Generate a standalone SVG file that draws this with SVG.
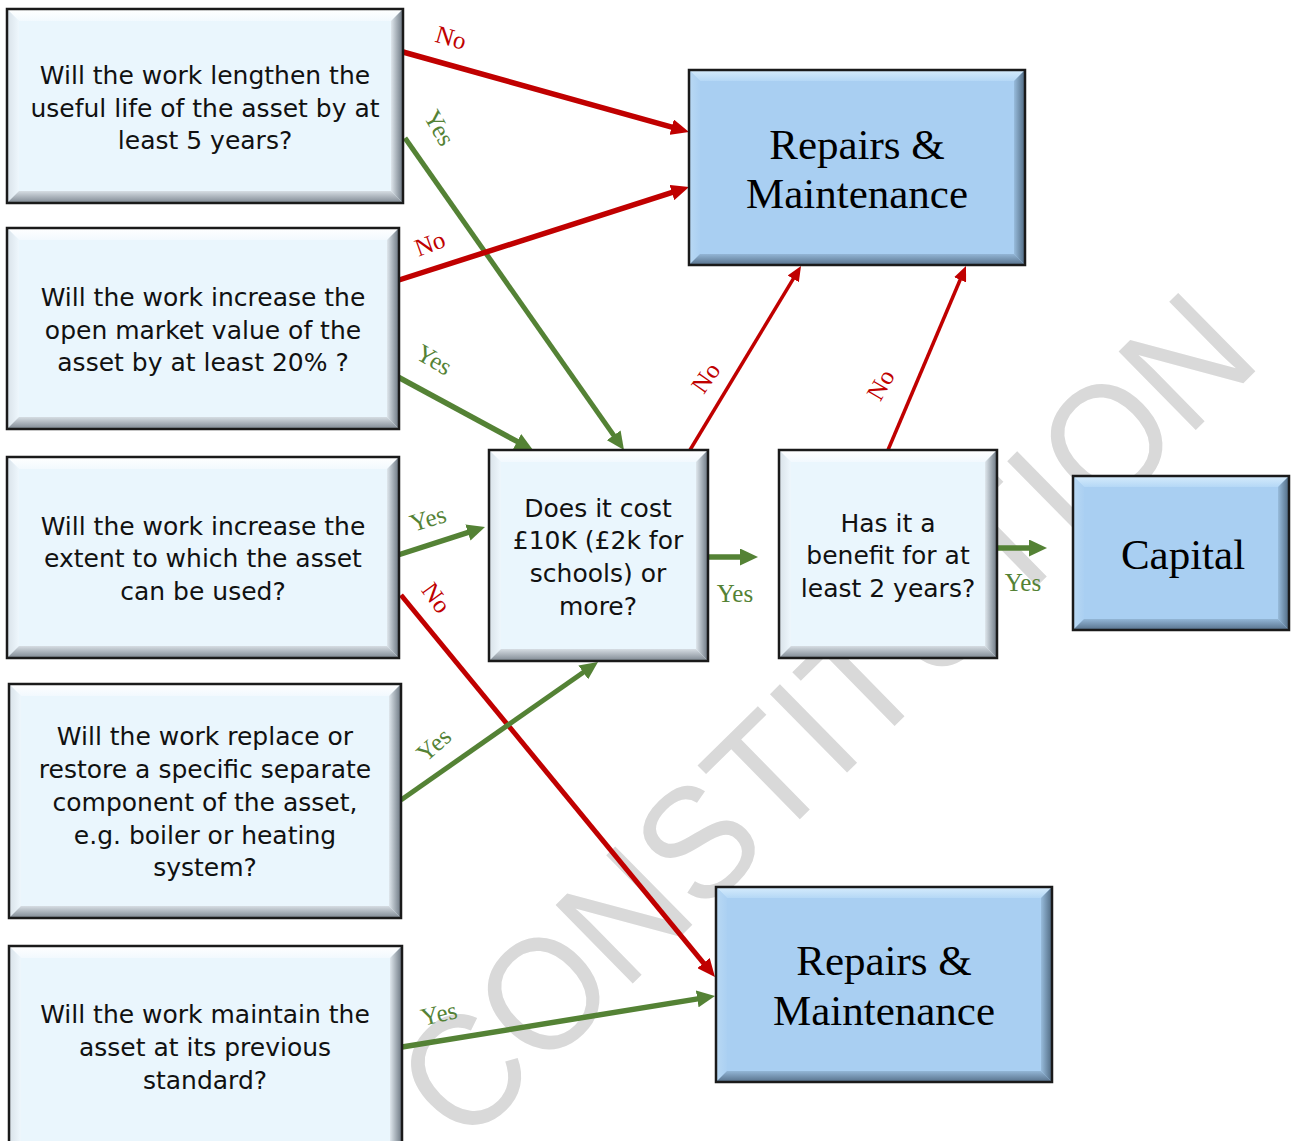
<svg xmlns="http://www.w3.org/2000/svg" width="1291" height="1141" viewBox="0 0 1291 1141">
  <style>
    .q-text { font-family: "DejaVu Sans", "Liberation Sans", sans-serif; font-size: 25px; fill: #111; text-anchor: middle; }
    .o-text { font-family: "Liberation Serif", "DejaVu Serif", serif; font-size: 43px; fill: #000; text-anchor: middle; }
    .lbl { font-family: "Liberation Serif", "DejaVu Serif", serif; font-size: 25px; text-anchor: middle; }
    .lbl-no { fill: #c00000; }
    .lbl-yes { fill: #548235; }
    .frame { fill: none; stroke: #1a1a1a; stroke-width: 2.5; }
    .q-base { fill: #eaf6fd; }
    .o-base { fill: #a9cff2; }
    .q-top { fill: url(#qTop); } .q-bot { fill: url(#qBot); } .q-left { fill: url(#qLeft); } .q-right { fill: url(#qRight); }
    .o-top { fill: url(#oTop); } .o-bot { fill: url(#oBot); } .o-left { fill: url(#oLeft); } .o-right { fill: url(#oRight); }
    .ln { fill: none; stroke-linecap: butt; }
    .red { stroke: #c00000; }
    .green { stroke: #548235; }
    .thick { stroke-width: 5.5; }
    .mid { stroke-width: 5; }
    .thin { stroke-width: 3.5; }
    .watermark { font-family: "Liberation Sans", "DejaVu Sans", sans-serif; font-size: 160px; fill: #d9d9d9; text-anchor: middle; }
  </style>
  <defs>
    <!-- bevel shading, pale question boxes -->
    <linearGradient id="qTop" x1="0" y1="0" x2="0" y2="1"><stop offset="0" stop-color="#ffffff"/><stop offset="1" stop-color="#f2f9fe"/></linearGradient>
    <linearGradient id="qBot" x1="0" y1="0" x2="0" y2="1"><stop offset="0" stop-color="#d6dde3"/><stop offset="1" stop-color="#7d8791"/></linearGradient>
    <linearGradient id="qLeft" x1="0" y1="0" x2="1" y2="0"><stop offset="0" stop-color="#d9e2e9"/><stop offset="1" stop-color="#eef7fd"/></linearGradient>
    <linearGradient id="qRight" x1="0" y1="0" x2="1" y2="0"><stop offset="0" stop-color="#dfe7ed"/><stop offset="1" stop-color="#6a7580"/></linearGradient>
    <!-- bevel shading, blue outcome boxes -->
    <linearGradient id="oTop" x1="0" y1="0" x2="0" y2="1"><stop offset="0" stop-color="#d6ecfc"/><stop offset="1" stop-color="#b5d8f6"/></linearGradient>
    <linearGradient id="oBot" x1="0" y1="0" x2="0" y2="1"><stop offset="0" stop-color="#93b6d6"/><stop offset="1" stop-color="#56708a"/></linearGradient>
    <linearGradient id="oLeft" x1="0" y1="0" x2="1" y2="0"><stop offset="0" stop-color="#b9d9f4"/><stop offset="1" stop-color="#abd0f2"/></linearGradient>
    <linearGradient id="oRight" x1="0" y1="0" x2="1" y2="0"><stop offset="0" stop-color="#98bcdc"/><stop offset="1" stop-color="#4f6981"/></linearGradient>
    <marker id="headRed" viewBox="0 0 18 16" markerWidth="18" markerHeight="16" refX="2" refY="8" orient="auto" markerUnits="userSpaceOnUse"><path d="M0,0 L18,8 L0,16 Z" fill="#c00000"/></marker>
    <marker id="headGreen" viewBox="0 0 18 17" markerWidth="18" markerHeight="17" refX="2" refY="8.5" orient="auto" markerUnits="userSpaceOnUse"><path d="M0,0 L18,8.5 L0,17 Z" fill="#548235"/></marker>
    <marker id="headRedSmall" viewBox="0 0 15 13" markerWidth="15" markerHeight="13" refX="2" refY="6.5" orient="auto" markerUnits="userSpaceOnUse"><path d="M0,0 L15,6.5 L0,13 Z" fill="#c00000"/></marker>
  </defs>

  <rect width="1291" height="1141" fill="#ffffff"/>

  <text class="watermark" transform="translate(864,756) rotate(-44.5) scale(0.935,1)">CONSTITUTION</text>

  <g id="connectors">
    <line class="ln red thick" x1="403" y1="52" x2="673.6" y2="127.7" marker-end="url(#headRed)"/>
    <line class="ln green mid" x1="405" y1="138" x2="614.8" y2="436.9" marker-end="url(#headGreen)"/>
    <line class="ln red thick" x1="399" y1="280" x2="673.8" y2="191.9" marker-end="url(#headRed)"/>
    <line class="ln green thick" x1="398" y1="377" x2="518.9" y2="442.4" marker-end="url(#headGreen)"/>
    <line class="ln green thick" x1="398" y1="555" x2="469.8" y2="531.9" marker-end="url(#headGreen)"/>
    <line class="ln red mid" x1="401" y1="595" x2="704.8" y2="964.6" marker-end="url(#headRed)"/>
    <line class="ln green mid" x1="401" y1="800" x2="584.9" y2="671.2" marker-end="url(#headGreen)"/>
    <line class="ln green thick" x1="402" y1="1047" x2="699.2" y2="998.6" marker-end="url(#headGreen)"/>
    <line class="ln red thin" x1="690" y1="450" x2="794.3" y2="277.1" marker-end="url(#headRedSmall)"/>
    <line class="ln red thin" x1="888" y1="450" x2="960.9" y2="278" marker-end="url(#headRedSmall)"/>
    <line class="ln green thick" x1="707" y1="557" x2="742" y2="557" marker-end="url(#headGreen)"/>
    <line class="ln green thick" x1="995" y1="548" x2="1031" y2="548" marker-end="url(#headGreen)"/>

    <text class="lbl lbl-no" transform="translate(451,38) rotate(16)" y="8">No</text>
    <text class="lbl lbl-yes" transform="translate(439,128) rotate(60)" y="8">Yes</text>
    <text class="lbl lbl-no" transform="translate(430,244) rotate(-20)" y="8">No</text>
    <text class="lbl lbl-yes" transform="translate(434,360) rotate(30)" y="8">Yes</text>
    <text class="lbl lbl-yes" transform="translate(428,519) rotate(-17)" y="8">Yes</text>
    <text class="lbl lbl-no" transform="translate(436,598) rotate(54)" y="8">No</text>
    <text class="lbl lbl-yes" transform="translate(434,745) rotate(-42)" y="8">Yes</text>
    <text class="lbl lbl-yes" transform="translate(439,1014) rotate(-13)" y="8">Yes</text>
    <text class="lbl lbl-no" transform="translate(706,378) rotate(-55)" y="8">No</text>
    <text class="lbl lbl-no" transform="translate(881,385) rotate(-60)" y="8">No</text>
    <text class="lbl lbl-yes" x="735" y="602">Yes</text>
    <text class="lbl lbl-yes" x="1023" y="591">Yes</text>
  </g>

  <!-- question: useful life -->
  <g id="q-useful-life">
    <rect class="q-base" x="7" y="9" width="396" height="194"/>
    <polygon class="q-top" points="7,9 403,9 391,21 19,21"/>
    <polygon class="q-left" points="7,9 19,21 19,191 7,203"/>
    <polygon class="q-right" points="403,9 391,21 391,191 403,203"/>
    <polygon class="q-bot" points="7,203 19,191 391,191 403,203"/>
    <rect class="frame" x="7" y="9" width="396" height="194"/>
    <text class="q-text"><tspan x="205" y="84">Will the work lengthen the</tspan><tspan x="205" y="116.5">useful life of the asset by at</tspan><tspan x="205" y="149">least 5 years?</tspan></text>
  </g>

  <!-- question: market value -->
  <g id="q-market-value">
    <rect class="q-base" x="7" y="228" width="392" height="201"/>
    <polygon class="q-top" points="7,228 399,228 387,240 19,240"/>
    <polygon class="q-left" points="7,228 19,240 19,417 7,429"/>
    <polygon class="q-right" points="399,228 387,240 387,417 399,429"/>
    <polygon class="q-bot" points="7,429 19,417 387,417 399,429"/>
    <rect class="frame" x="7" y="228" width="392" height="201"/>
    <text class="q-text"><tspan x="203" y="306">Will the work increase the</tspan><tspan x="203" y="339">open market value of the</tspan><tspan x="203" y="371">asset by at least 20% ?</tspan></text>
  </g>

  <!-- question: extent of use -->
  <g id="q-extent">
    <rect class="q-base" x="7" y="457" width="392" height="201"/>
    <polygon class="q-top" points="7,457 399,457 387,469 19,469"/>
    <polygon class="q-left" points="7,457 19,469 19,646 7,658"/>
    <polygon class="q-right" points="399,457 387,469 387,646 399,658"/>
    <polygon class="q-bot" points="7,658 19,646 387,646 399,658"/>
    <rect class="frame" x="7" y="457" width="392" height="201"/>
    <text class="q-text"><tspan x="203" y="535">Will the work increase the</tspan><tspan x="203" y="567">extent to which the asset</tspan><tspan x="203" y="600">can be used?</tspan></text>
  </g>

  <!-- question: component replacement -->
  <g id="q-component">
    <rect class="q-base" x="9" y="684" width="392" height="234"/>
    <polygon class="q-top" points="9,684 401,684 389,696 21,696"/>
    <polygon class="q-left" points="9,684 21,696 21,906 9,918"/>
    <polygon class="q-right" points="401,684 389,696 389,906 401,918"/>
    <polygon class="q-bot" points="9,918 21,906 389,906 401,918"/>
    <rect class="frame" x="9" y="684" width="392" height="234"/>
    <text class="q-text"><tspan x="205" y="745">Will the work replace or</tspan><tspan x="205" y="778">restore a specific separate</tspan><tspan x="205" y="811">component of the asset,</tspan><tspan x="205" y="844">e.g. boiler or heating</tspan><tspan x="205" y="876">system?</tspan></text>
  </g>

  <!-- question: maintain standard -->
  <g id="q-maintain">
    <rect class="q-base" x="9" y="946" width="393" height="210"/>
    <polygon class="q-top" points="9,946 402,946 390,958 21,958"/>
    <polygon class="q-left" points="9,946 21,958 21,1156 9,1156"/>
    <polygon class="q-right" points="402,946 390,958 390,1156 402,1156"/>
    <rect class="frame" x="9" y="946" width="393" height="210"/>
    <text class="q-text"><tspan x="205" y="1023">Will the work maintain the</tspan><tspan x="205" y="1056">asset at its previous</tspan><tspan x="205" y="1089">standard?</tspan></text>
  </g>

  <!-- question: cost threshold -->
  <g id="q-cost">
    <rect class="q-base" x="489" y="450" width="219" height="211"/>
    <polygon class="q-top" points="489,450 708,450 696,462 501,462"/>
    <polygon class="q-left" points="489,450 501,462 501,649 489,661"/>
    <polygon class="q-right" points="708,450 696,462 696,649 708,661"/>
    <polygon class="q-bot" points="489,661 501,649 696,649 708,661"/>
    <rect class="frame" x="489" y="450" width="219" height="211"/>
    <text class="q-text"><tspan x="598" y="517">Does it cost</tspan><tspan x="598" y="549">£10K (£2k for</tspan><tspan x="598" y="582">schools) or</tspan><tspan x="598" y="615">more?</tspan></text>
  </g>

  <!-- question: benefit duration -->
  <g id="q-benefit">
    <rect class="q-base" x="779" y="450" width="218" height="208"/>
    <polygon class="q-top" points="779,450 997,450 985,462 791,462"/>
    <polygon class="q-left" points="779,450 791,462 791,646 779,658"/>
    <polygon class="q-right" points="997,450 985,462 985,646 997,658"/>
    <polygon class="q-bot" points="779,658 791,646 985,646 997,658"/>
    <rect class="frame" x="779" y="450" width="218" height="208"/>
    <text class="q-text"><tspan x="888" y="532">Has it a</tspan><tspan x="888" y="564">benefit for at</tspan><tspan x="888" y="597">least 2 years?</tspan></text>
  </g>

  <!-- outcome: repairs & maintenance (upper) -->
  <g id="out-repairs-upper">
    <rect class="o-base" x="689" y="70" width="336" height="195"/>
    <polygon class="o-top" points="689,70 1025,70 1014,81 700,81"/>
    <polygon class="o-left" points="689,70 700,81 700,254 689,265"/>
    <polygon class="o-right" points="1025,70 1014,81 1014,254 1025,265"/>
    <polygon class="o-bot" points="689,265 700,254 1014,254 1025,265"/>
    <rect class="frame" x="689" y="70" width="336" height="195"/>
    <text class="o-text"><tspan x="857" y="159">Repairs &amp;</tspan><tspan x="857" y="208">Maintenance</tspan></text>
  </g>

  <!-- outcome: capital -->
  <g id="out-capital">
    <rect class="o-base" x="1073" y="476" width="216" height="154"/>
    <polygon class="o-top" points="1073,476 1289,476 1278,487 1084,487"/>
    <polygon class="o-left" points="1073,476 1084,487 1084,619 1073,630"/>
    <polygon class="o-right" points="1289,476 1278,487 1278,619 1289,630"/>
    <polygon class="o-bot" points="1073,630 1084,619 1278,619 1289,630"/>
    <rect class="frame" x="1073" y="476" width="216" height="154"/>
    <text class="o-text" x="1183" y="569">Capital</text>
  </g>

  <!-- outcome: repairs & maintenance (lower) -->
  <g id="out-repairs-lower">
    <rect class="o-base" x="716" y="887" width="336" height="195"/>
    <polygon class="o-top" points="716,887 1052,887 1041,898 727,898"/>
    <polygon class="o-left" points="716,887 727,898 727,1071 716,1082"/>
    <polygon class="o-right" points="1052,887 1041,898 1041,1071 1052,1082"/>
    <polygon class="o-bot" points="716,1082 727,1071 1041,1071 1052,1082"/>
    <rect class="frame" x="716" y="887" width="336" height="195"/>
    <text class="o-text"><tspan x="884" y="975">Repairs &amp;</tspan><tspan x="884" y="1025">Maintenance</tspan></text>
  </g>
</svg>
